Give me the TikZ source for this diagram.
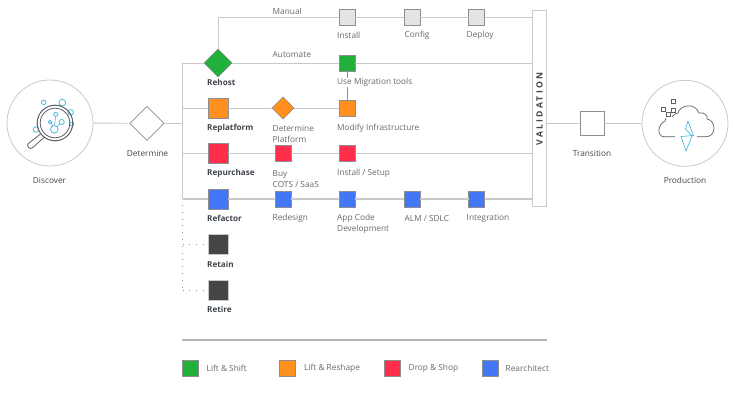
\documentclass[tikz,border=0pt]{standalone}
\usepackage{fontspec}
\setmainfont{Open Sans}
\usetikzlibrary{shapes.geometric}

\definecolor{linegray}{HTML}{C9C9CA}
\definecolor{boxgray}{HTML}{8E8E90}
\definecolor{txtgray}{HTML}{666769}
\definecolor{txtdark}{HTML}{3F444C}
\definecolor{liftgreen}{HTML}{21B03B}
\definecolor{reshapeorange}{HTML}{FF8F1F}
\definecolor{dropred}{HTML}{FF2F4B}
\definecolor{rearchblue}{HTML}{4477F8}
\definecolor{retiredark}{HTML}{444547}
\definecolor{paleblock}{HTML}{E4E4E5}
\definecolor{iconblue}{HTML}{4DB9DC}

\tikzset{
  conn/.style={draw=linegray,line width=0.9pt},
  dots/.style={draw=boxgray,line width=0.7pt,dash pattern=on 0.8pt off 6pt},
  sq/.style={draw=boxgray,line width=0.7pt,minimum size=#1,inner sep=0pt,outer sep=0pt},
  dia/.style={diamond,draw=boxgray,line width=0.7pt,minimum size=#1,inner sep=0pt,outer sep=0pt},
  sublab/.style={anchor=west,align=left,inner sep=0pt,yshift=-0.8pt,text=txtgray,font=\fontsize{8.3}{11}\selectfont},
  mainlab/.style={anchor=west,inner sep=0pt,yshift=-0.8pt,text=txtdark,font=\fontsize{8.15}{10}\selectfont\bfseries},
  steplab/.style={inner sep=0pt,yshift=-0.8pt,text=txtdark,font=\fontsize{8.3}{10}\selectfont},
  iconline/.style={draw=txtdark!85,line width=0.7pt},
  iconcirc/.style={draw=iconblue,line width=0.8pt}
}

\begin{document}
\begin{tikzpicture}[x=1pt,y=-1pt]
  \useasboundingbox (0,0) rectangle (734,401);

  % left part
  \node[circle,draw=linegray,line width=0.8pt,minimum size=86pt,inner sep=0pt] (discover) at (50,123) {};
  \node[steplab] (discoverlab) at (49.5,180) {Discover};
  \node[dia=34pt,fill=white] (determine) at (147,123.3) {};
  \node[steplab] (determinelab) at (147.5,152.5) {Determine};
  \coordinate (trunkmid) at (182.5,123.3);
  \coordinate (trunktop) at (182.5,63);
  \coordinate (trunkrep) at (182.5,108);
  \coordinate (trunkbuy) at (182.5,153.5);
  \coordinate (trunkbot) at (182.5,199);
  \coordinate (dotstart) at (182.5,205);
  \coordinate (dotretain) at (182.5,244);
  \coordinate (dotretire) at (182.5,290);
  \coordinate (corner) at (218,17.5);

  % strategies
  \node[dia=28pt,fill=liftgreen] (rehost) at (218,63) {};
  \node[sq=20pt,fill=reshapeorange] (replatform) at (218,108) {};
  \node[sq=20pt,fill=dropred] (repurchase) at (218,153.5) {};
  \node[sq=20pt,fill=rearchblue] (refactor) at (218,199) {};
  \node[sq=20pt,fill=retiredark,draw=linegray] (retain) at (218.5,244) {};
  \node[sq=20pt,fill=retiredark,draw=linegray] (retire) at (218.5,290) {};
  \node[mainlab] (rehostlab) at (207,82) {Rehost};
  \node[mainlab] (replatformlab) at (207,127.5) {Replatform};
  \node[mainlab] (repurchaselab) at (207,173) {Repurchase};
  \node[mainlab] (refactorlab) at (207,218) {Refactor};
  \node[mainlab] (retainlab) at (207,263.5) {Retain};
  \node[mainlab] (retirelab) at (207,309) {Retire};

  % steps
  \node[sq=16pt,fill=paleblock] (install) at (347,17.5) {};
  \node[sq=16pt,fill=paleblock] (config) at (412,17.5) {};
  \node[sq=16pt,fill=paleblock] (deploy) at (476.5,17.5) {};
  \node[sq=16pt,fill=liftgreen] (migrate) at (347,63) {};
  \node[dia=22pt,fill=reshapeorange] (platform) at (283,108) {};
  \node[sq=16pt,fill=reshapeorange] (modify) at (347,108) {};
  \node[sq=16pt,fill=dropred] (buy) at (283,153.5) {};
  \node[sq=16pt,fill=dropred] (setup) at (347,153.5) {};
  \node[sq=16pt,fill=rearchblue] (redesign) at (283,199) {};
  \node[sq=16pt,fill=rearchblue] (appcode) at (347,199) {};
  \node[sq=16pt,fill=rearchblue] (almsdlc) at (412,199) {};
  \node[sq=16pt,fill=rearchblue] (integration) at (476.5,199) {};

  \node[sublab] (manuallab) at (272.5,11) {Manual};
  \node[sublab] (automatelab) at (272.5,54) {Automate};
  \node[sublab] (installlab) at (337,34.5) {Install};
  \node[sublab] (configlab) at (404.5,34.5) {Config};
  \node[sublab] (deploylab) at (466.5,34.5) {Deploy};
  \node[sublab] (migratelab) at (337,82) {Use Migration tools};
  \node[sublab] (platformlab) at (272.5,133) {Determine\\Platform};
  \node[sublab] (modifylab) at (337,127.5) {Modify Infrastructure};
  \node[sublab] (buylab) at (272.5,178.5) {Buy\\COTS / SaaS};
  \node[sublab] (setuplab) at (337,173) {Install / Setup};
  \node[sublab] (redesignlab) at (272.5,218) {Redesign};
  \node[sublab] (appcodelab) at (337,223.5) {App Code\\Development};
  \node[sublab] (almlab) at (404.5,218) {ALM / SDLC};
  \node[sublab] (integrationlab) at (466.5,218) {Integration};

  % right part
  \node[draw=linegray,line width=0.9pt,fill=white,minimum width=14.5pt,minimum height=196pt,inner sep=0pt,outer sep=0pt] (validation) at (539.5,108) {};
  \node[rotate=90,inner sep=0pt,text=txtdark,font=\fontsize{8.6}{10}\selectfont\bfseries\addfontfeature{LetterSpace=27}] (validationlab) at (539.5,109) {VALIDATION};
  \coordinate (valrow0) at (validation.west |- corner);
  \coordinate (valrow1) at (validation.west |- rehost);
  \coordinate (valrow3) at (validation.west |- repurchase);
  \coordinate (valrow4) at (validation.west |- refactor);
  \coordinate (valout) at (validation.east |- determine);
  \node[sq=24pt,draw=boxgray,fill=white] (transition) at (592,123.3) {};
  \node[steplab] (transitionlab) at (592,152.5) {Transition};
  \node[circle,draw=linegray,line width=0.8pt,minimum size=86pt,inner sep=0pt] (production) at (685,123.3) {};
  \node[steplab] (productionlab) at (685,180) {Production};

  % connectors
  \draw[conn] (discover) -- (determine);
  \draw[conn] (determine) -- (trunkmid);
  \draw[conn] (trunktop) -- (trunkbot);
  \draw[conn] (trunktop) -- (rehost) -- (migrate) -- (valrow1);
  \draw[conn] (rehost) -- (corner) -- (install) -- (config) -- (deploy) -- (valrow0);
  \draw[conn] (trunkrep) -- (replatform) -- (platform) -- (modify);
  \draw[conn] (trunkbuy) -- (repurchase) -- (buy) -- (setup) -- (valrow3);
  \draw[conn,line width=1.2pt] (trunkbot) -- (refactor) -- (redesign) -- (appcode) -- (almsdlc) -- (integration) -- (valrow4);
  \draw[draw=boxgray,line width=0.8pt] (migrate) -- (migratelab.north -| migrate);
  \draw[draw=boxgray,line width=0.8pt] (migratelab.south -| modify) -- (modify);
  \draw[conn] (valout) -- (transition) -- (production);
  \draw[dots] (dotstart) -- (dotretire);
  \draw[dots] (dotretain) -- (retain);
  \draw[dots] (dotretire) -- (retire);

  % discover icon
  \foreach \cx/\cy/\rr in {43.7/102.3/2.3,62.3/102.7/3.4,70.7/112.3/2.8,71.7/124/2,36/129.5/2.8,54.3/129.3/3.8,61.7/122/2.6,50/122/1.8,55.7/114.3/2} {
    \draw[iconcirc] (\cx,\cy) circle (\rr);
  }
  \draw[iconcirc,line width=0.6pt] (55.7,116.3) -- (54.5,125.5) (51.3,123.2) -- (52.5,126) (59.8,124) -- (57,127);
  \draw[iconline,line width=1pt] (55,123) circle (17.8);
  \draw[iconline,line width=0.8pt] (55,123) circle (14.8);
  \draw[iconline,line width=0.8pt,rounded corners=2.5pt] (40.5,134) -- (26.5,145) -- (30.5,149.5) -- (44,137.5);

  % production icon
  \draw[iconline] (675,136.7) -- (664,136.7) .. controls (657,136.7) and (657,125) .. (665,121) -- (666,118);
  \draw[iconline] (672,117) .. controls (675,113.5) and (676,113) .. (678,113) .. controls (680,105) and (695,102) .. (699,113) .. controls (705,112) and (708,116) .. (707,119) .. controls (716,120) and (717,136.7) .. (706,136.7) -- (697,136.7);
  \foreach \cx/\cy in {673.5/101.7,663.7/109,673.5/110,668.3/114.5} {
    \draw[iconline,fill=white] (\cx-2,\cy-2) rectangle (\cx+2,\cy+2);
  }
  \draw[draw=iconblue,line width=0.7pt] (688,121) -- (693.5,135.5) -- (681,136.5) -- (686,151) -- (692,136) -- (685.5,129) -- (688,121);

  % legend
  \node[minimum width=365pt,minimum height=0pt,inner sep=0pt] (legendrule) at (364.5,340) {};
  \draw[draw=linegray!90!black,line width=1.2pt] (legendrule.west) -- (legendrule.east);
  \foreach \cx/\tx/\col/\lab/\nm in {190/206.5/liftgreen/Lift \& Shift/shift,287.5/304/reshapeorange/Lift \& Reshape/reshape,392.5/408.5/dropred/Drop \& Shop/shop,490/505.5/rearchblue/Rearchitect/rearch} {
    \node[sq=16pt,fill=\col] (leg\nm) at (\cx,368) {};
    \node[sublab] (leglab\nm) at (\tx,368) {\lab};
  }
\end{tikzpicture}
\end{document}
